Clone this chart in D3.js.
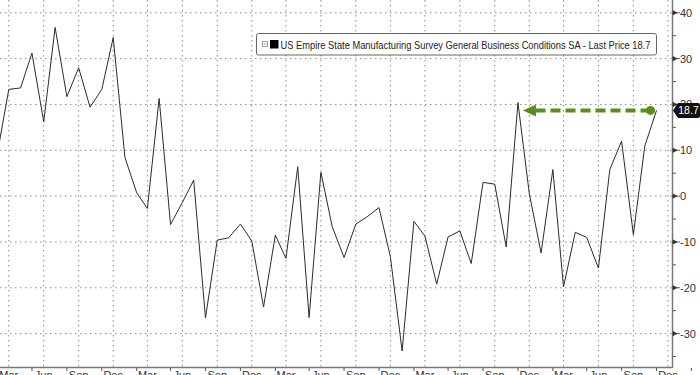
<!DOCTYPE html>
<html>
<head>
<meta charset="utf-8">
<script src="https://cdn.jsdelivr.net/npm/d3@7"></script>
<style>
  body { margin: 0; background: #fff; }
  svg { display: block; font-family: "Liberation Sans", Arial, sans-serif; }
</style>
</head>
<body>
<svg width="700" height="375"></svg>
<script>
// monthly readings, Feb 2021 .. Nov 2025
const startMonth = "2021-02"
const values = [
    10.3, 23.3, 23.6, 31.2, 16.2, 36.8, 21.7, 28.0, 19.4, 23.3, 34.6,
    8.4, 0.7, -2.7, 21.3, -6.2, -1.4, 3.5, -26.6, -9.6, -9.1, -6.1, -9.8,
    -24.2, -8.5, -13.6, 6.4, -26.5, 5.2, -6.7, -13.4, -6.1, -4.5, -2.5, -13.2,
    -33.8, -5.5, -8.7, -19.2, -8.9, -7.6, -14.7, 3.0, 2.6, -11.1, 20.4, 0.5,
    -12.4, 5.8, -19.8, -7.9, -9.0, -15.7, 5.8, 12.0, -8.4, 10.9, 18.7
]
const yTicks = [-30, -20, -10, 0, 10, 20, 30, 40]
const yMinorTicks = [-35, -25, -15, -5, 5, 15, 25, 35]
const monthLabels = ["Mar", "Jun", "Sep", "Dec"]
const legendText = "US Empire State Manufacturing Survey General Business Conditions SA - Last Price 18.7"
const lastLabel = "18.7"

const parseMonth = d3.timeParse("%Y-%m")
const start = parseMonth(startMonth)
const data = values.map((v, i) => ({ date: d3.timeMonth.offset(start, i), value: v }))

const plotRight = 672
const plotBottom = 367

const x = d3.scaleTime()
    .domain([new Date(2021, 2, 1), new Date(2025, 2, 1)])
    .range([8.8, 563.5])

const y = d3.scaleLinear()
    .domain([-30, 40])
    .range([333.6, 12.8])

const svg = d3.select("svg")

svg.append("clipPath")
    .attr("id", "plot")
    .append("rect")
    .attr("width", plotRight)
    .attr("height", plotBottom)

// quarterly label positions: Mar, Jun, Sep, Dec
const quarters = d3.timeMonth.range(new Date(2021, 2, 1), new Date(2026, 0, 1), 3)

const grid = svg.append("g").attr("clip-path", "url(#plot)")

grid.selectAll("line.hgrid")
    .data(yTicks)
    .enter()
    .append("line")
    .attr("class", "hgrid")
    .attr("x1", 0)
    .attr("x2", plotRight)
    .attr("y1", d => y(d))
    .attr("y2", d => y(d))
    .style("stroke", "#8a8a8a")
    .style("stroke-dasharray", "1.5,3.5")

grid.selectAll("line.vgrid")
    .data(quarters)
    .enter()
    .append("line")
    .attr("class", "vgrid")
    .attr("x1", d => x(d))
    .attr("x2", d => x(d))
    .attr("y1", 0)
    .attr("y2", plotBottom)
    .style("stroke", "#8a8a8a")
    .style("stroke-dasharray", "1.5,3.5")

// series line
const line = d3.line()
    .x(d => x(d.date))
    .y(d => y(d.value))

svg.append("path")
    .datum(data)
    .attr("clip-path", "url(#plot)")
    .attr("d", line)
    .style("fill", "none")
    .style("stroke", "#2b2b2b")
    .style("stroke-width", 1)

// bottom axis
svg.append("line")
    .attr("x1", 0)
    .attr("x2", plotRight)
    .attr("y1", plotBottom + 0.5)
    .attr("y2", plotBottom + 0.5)
    .style("stroke", "#777")
    .style("stroke-width", 1.5)

svg.selectAll("line.xtick")
    .data(quarters)
    .enter()
    .append("line")
    .attr("class", "xtick")
    .attr("x1", d => x(d3.timeMonth.offset(d, 2)))
    .attr("x2", d => x(d3.timeMonth.offset(d, 2)))
    .attr("y1", plotBottom + 1)
    .attr("y2", plotBottom + 4)
    .style("stroke", "#555")

svg.selectAll("text.xlabel")
    .data(quarters)
    .enter()
    .append("text")
    .attr("class", "xlabel")
    .attr("x", d => x(d))
    .attr("y", 379)
    .style("text-anchor", "middle")
    .style("font-size", "11px")
    .style("fill", "#333")
    .text(d => monthLabels[Math.floor(d.getMonth() / 3)])

// right axis
svg.append("line")
    .attr("x1", plotRight + 0.5)
    .attr("x2", plotRight + 0.5)
    .attr("y1", 0)
    .attr("y2", plotBottom + 1)
    .style("stroke", "#777")
    .style("stroke-width", 1.5)

svg.selectAll("path.ytick")
    .data(yTicks)
    .enter()
    .append("path")
    .attr("class", "ytick")
    .attr("d", d => `M${plotRight + 1},${y(d) - 2}L${plotRight + 5},${y(d)}L${plotRight + 1},${y(d) + 2}Z M${plotRight + 4},${y(d)}H${plotRight + 8}`)
    .style("fill", "#333")
    .style("stroke", "#333")
    .style("stroke-width", 0.8)

svg.selectAll("line.yminor")
    .data(yMinorTicks)
    .enter()
    .append("line")
    .attr("class", "yminor")
    .attr("x1", plotRight + 1)
    .attr("x2", plotRight + 4)
    .attr("y1", d => y(d))
    .attr("y2", d => y(d))
    .style("stroke", "#555")

svg.selectAll("text.ylabel")
    .data(yTicks)
    .enter()
    .append("text")
    .attr("class", "ylabel")
    .attr("x", plotRight + 8)
    .attr("y", d => y(d) + 4)
    .style("font-size", "11px")
    .style("fill", "#333")
    .text(d => d)

// green arrow from last value back to the earlier peak
const last = data[data.length - 1]
const peak = data[45]
const arrowY = y(last.value)
const tipX = x(peak.date) + 5
const arrowColor = "#5b8c1e"

svg.append("line")
    .attr("x1", x(last.date) - 6)
    .attr("x2", tipX + 10)
    .attr("y1", arrowY)
    .attr("y2", arrowY)
    .style("stroke", arrowColor)
    .style("stroke-width", 4)
    .style("stroke-dasharray", "10,5")

svg.append("path")
    .attr("d", `M${tipX},${arrowY}L${tipX + 13},${arrowY - 6}L${tipX + 13},${arrowY + 6}Z`)
    .style("fill", arrowColor)

svg.append("circle")
    .attr("cx", x(last.date) - 6)
    .attr("cy", arrowY)
    .attr("r", 4.5)
    .style("fill", arrowColor)

// last value tag
const tag = svg.append("g")
    .attr("transform", `translate(${plotRight + 1}, ${y(last.value)})`)

tag.append("path")
    .attr("d", "M0,0L5,-7.5H25Q27,-7.5 27,-5.5V5.5Q27,7.5 25,7.5H5Z")
    .style("fill", "#111")

tag.append("text")
    .attr("x", 15.5)
    .attr("y", 4)
    .style("text-anchor", "middle")
    .style("font-size", "10.5px")
    .style("fill", "#fff")
    .text(lastLabel)

// legend
const legend = svg.append("g")
    .attr("transform", "translate(256.5, 33.5)")

legend.append("rect")
    .attr("width", 400)
    .attr("height", 21.5)
    .attr("rx", 2)
    .style("fill", "#fff")
    .style("stroke", "#666")

legend.append("rect")
    .attr("x", 6)
    .attr("y", 8)
    .attr("width", 5)
    .attr("height", 5)
    .style("fill", "none")
    .style("stroke", "#888")
    .style("stroke-width", 0.8)

legend.append("line")
    .attr("x1", 7)
    .attr("x2", 10)
    .attr("y1", 10.5)
    .attr("y2", 10.5)
    .style("stroke", "#888")
    .style("stroke-width", 0.8)

legend.append("rect")
    .attr("x", 13.5)
    .attr("y", 6.5)
    .attr("width", 8.5)
    .attr("height", 8.5)
    .style("fill", "#000")

const legendLabel = legend.append("text")
    .attr("x", 24)
    .attr("y", 15)
    .style("font-size", "11px")
    .style("fill", "#222")
    .text(legendText)

const w = legendLabel.node().getComputedTextLength()
if (w > 370) legendLabel.attr("textLength", 370).attr("lengthAdjust", "spacingAndGlyphs")
</script>
</body>
</html>
